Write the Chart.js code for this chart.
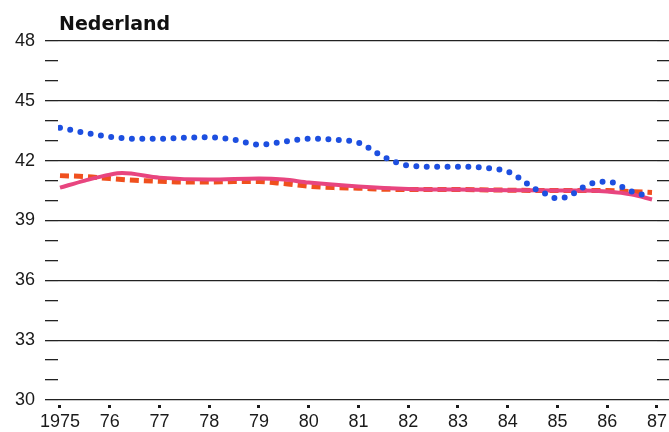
<!DOCTYPE html>
<html>
<head>
<meta charset="utf-8">
<script src="https://cdn.jsdelivr.net/npm/chart.js@4"></script>
<style>
html, body { margin:0; padding:0; background:#fff; }
#wrap { position:relative; width:669px; height:432px; }
#titel { position:absolute; left:59px; top:12px; font: bold 19px "DejaVu Sans", sans-serif; color:#111; line-height:22px; }
</style>
</head>
<body>
<div id="wrap">
<canvas id="grafiek" width="669" height="432"></canvas>
<div id="titel">Nederland</div>
</div>
<script>
// jaren op de x-as
var jaren = [1975, 1976, 1977, 1978, 1979, 1980, 1981, 1982, 1983, 1984, 1985, 1986, 1987];
// waarden op de y-as (elke eenheid een streepje, elke 3 een lijn met getal)
var yWaarden = [30, 31, 32, 33, 34, 35, 36, 37, 38, 39, 40, 41, 42, 43, 44, 45, 46, 47, 48];

// blauwe stippellijn
var blauwX = [1975, 1975.5, 1976, 1976.5, 1977, 1977.5, 1978, 1978.5, 1979, 1979.5, 1980, 1980.5, 1981, 1981.5, 1982, 1982.5, 1983, 1983.5, 1984, 1984.25, 1984.5, 1984.75, 1985, 1985.25, 1985.5, 1985.75, 1986, 1986.5, 1986.85];
var blauwY = [43.65, 43.4, 43.2, 43.1, 43.1, 43.15, 43.17, 43.05, 42.8, 42.95, 43.1, 43.05, 42.9, 42.2, 41.75, 41.7, 41.7, 41.65, 41.45, 41.1, 40.65, 40.35, 40.1, 40.25, 40.65, 40.9, 40.95, 40.45, 40.2];

// rode streepjeslijn
var roodX = [1975, 1975.5, 1976, 1976.5, 1977, 1977.5, 1978, 1978.5, 1979, 1979.5, 1980, 1980.5, 1981, 1981.5, 1982, 1983, 1984, 1985, 1986, 1986.5, 1986.9];
var roodY = [41.25, 41.2, 41.1, 41.02, 40.97, 40.93, 40.93, 40.95, 40.95, 40.85, 40.72, 40.65, 40.62, 40.57, 40.55, 40.55, 40.52, 40.5, 40.5, 40.45, 40.4];

// roze doorgetrokken lijn
var rozeX = [1975, 1975.5, 1976, 1976.25, 1977, 1978, 1979, 1979.5, 1980, 1981, 1982, 1983, 1984, 1985, 1985.5, 1986, 1986.5, 1986.9];
var rozeY = [40.65, 41.0, 41.3, 41.38, 41.15, 41.05, 41.1, 41.05, 40.9, 40.7, 40.58, 40.55, 40.52, 40.5, 40.5, 40.45, 40.3, 40.05];

function punten(xs, ys) {
	return xs.map((x, i) => ({ x: x, y: ys[i] }));
}

var zwart = '#1a1a1a';
var letter = { family: '"Liberation Sans", Arial, sans-serif', size: 18 };

var grafiek = new Chart(document.getElementById('grafiek'), {
	type: 'line',
	data: { datasets: [
		{
			data: punten(blauwX, blauwY),
			borderColor: '#1d4fe0',
			borderWidth: 6,
			borderDash: [0, 10.4],
			borderCapStyle: 'round',
			cubicInterpolationMode: 'monotone',
			pointRadius: 0
		},
		{
			data: punten(rozeX, rozeY),
			borderColor: '#e8457f',
			borderWidth: 4,
			cubicInterpolationMode: 'monotone',
			pointRadius: 0
		},
		{
			data: punten(roodX, roodY),
			borderColor: '#f0501e',
			borderWidth: 5,
			borderDash: [9, 5],
			cubicInterpolationMode: 'monotone',
			pointRadius: 0
		}
	]},
	options: {
		responsive: false,
		animation: false,
		devicePixelRatio: 1,
		layout: { padding: { top: 41, left: 0, right: 0, bottom: 0 } },
		plugins: { legend: { display: false }, tooltip: { enabled: false } },
		scales: {
			x: {
				type: 'linear',
				min: 1974.96,
				max: 1987,
				afterBuildTicks: s => { s.ticks = jaren.map(v => ({ value: v })); },
				afterFit: s => { s.height = 32; },
				border: { display: false },
				grid: {
					drawOnChartArea: false,
					tickLength: 9,
					tickWidth: 3,
					tickColor: zwart,
					tickBorderDash: [0, 5, 3, 60]
				},
				ticks: {
					autoSkip: false,
					maxRotation: 0,
					padding: 2,
					color: zwart,
					font: letter,
					callback: v => v === 1975 ? '1975' : String(v).slice(2)
				}
			},
			y: {
				position: 'left',
				min: 30,
				max: 48,
				afterBuildTicks: s => { s.ticks = yWaarden.map(v => ({ value: v })); },
				afterFit: s => { s.width = 58; },
				border: { display: false },
				grid: {
					color: c => c.tick && c.tick.value % 3 === 0 ? '#222' : 'rgba(0,0,0,0)',
					tickColor: '#222',
					tickLength: 13,
					lineWidth: 1.3
				},
				ticks: {
					autoSkip: false,
					padding: 10,
					color: zwart,
					font: letter,
					callback: v => v % 3 === 0 ? String(v) : ''
				}
			},
			y2: {
				position: 'right',
				min: 30,
				max: 48,
				afterBuildTicks: s => { s.ticks = yWaarden.map(v => ({ value: v })); },
				afterFit: s => { s.width = 12; },
				border: { display: false },
				grid: {
					drawOnChartArea: false,
					tickColor: '#222',
					tickLength: 12,
					lineWidth: 1.3
				},
				ticks: { autoSkip: false, display: false }
			}
		}
	}
});
</script>
</body>
</html>
